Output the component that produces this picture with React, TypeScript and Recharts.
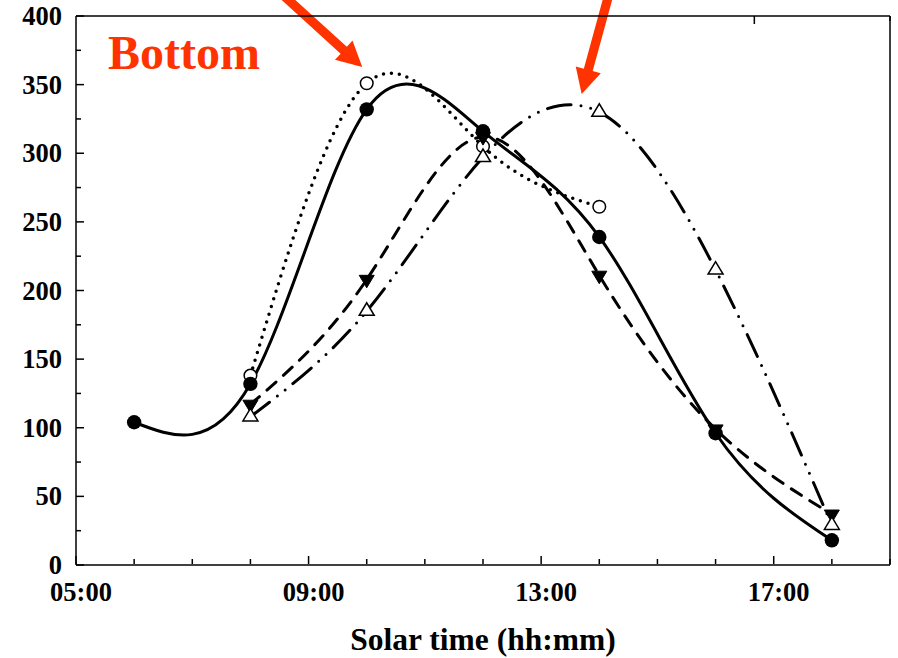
import React from 'react';
import { LineChart, Line, XAxis, YAxis, ReferenceLine, ReferenceDot, Label } from 'recharts';

// ---- data ----
const hours = [6, 8, 10, 12, 14, 16, 18];
const seriesSolid = [104, 132, 332, 316, 239, 96, 18];
const seriesDotted = [null, 138, 351, 305, 261, null, null];
const seriesDashed = [null, 117, 208, 312, 211, 99, 37];
const seriesDashDot = [null, 108, 185, 297, 330, 215, 29];

const xTicks = [5, 6, 7, 8, 9, 10, 11, 12, 13, 14, 15, 16, 17, 18, 19];
const xLabelHours = [5, 9, 13, 17];
const yTicks = [0, 25, 50, 75, 100, 125, 150, 175, 200, 225, 250, 275, 300, 325, 350, 375, 400];
const yLabelValues = [0, 50, 100, 150, 200, 250, 300, 350, 400];

const arrows = [
  { x1: 8.49, y1: 418, x2: 9.923, y2: 362.8 },
  { x1: 14.18, y1: 418, x2: 13.697, y2: 343.2 },
];
const annotation = { x: 5.55, y: 361.4, text: 'Bottom' };
const xTitle = 'Solar time (hh:mm)';

const data = hours.map((h, i) => ({
  h,
  a: seriesSolid[i],
  b: seriesDotted[i] ?? undefined,
  c: seriesDashed[i] ?? undefined,
  d: seriesDashDot[i] ?? undefined,
}));

const RED = '#ff3300';
const tickFont = { fontFamily: '"Liberation Serif", serif', fontWeight: 700, fontSize: 26.5, fill: '#000' };
const fmtHour = (h: number) => `${String(h).padStart(2, '0')}:00`;

const BottomTick = (props: any) => {
  const { x, payload } = props;
  const y = props.y - 1;
  const major = xLabelHours.includes(payload.value);
  return (
    <g>
      <line x1={x} x2={x} y1={y} y2={y - (major ? 8 : 5)} stroke="#000" strokeWidth={1.5} />
      {major && (
        <text x={x + 5} y={y + 37} textAnchor="middle" style={tickFont}>
          {fmtHour(payload.value)}
        </text>
      )}
    </g>
  );
};

const TopTick = (props: any) => {
  const { x, y, payload } = props;
  const major = xLabelHours.includes(payload.value);
  return <line x1={x} x2={x} y1={y} y2={y + (major ? 8 : 5)} stroke="#000" strokeWidth={1.5} />;
};

const LeftTick = (props: any) => {
  const { x, y, payload } = props;
  const major = yLabelValues.includes(payload.value);
  return (
    <g>
      <line x1={x} x2={x + (major ? 8 : 5)} y1={y} y2={y} stroke="#000" strokeWidth={1.5} />
      {major && (
        <text x={x - 14} y={y + 9} textAnchor="end" style={tickFont}>
          {payload.value}
        </text>
      )}
    </g>
  );
};

const RightTick = (props: any) => {
  const { x, y, payload } = props;
  const major = yLabelValues.includes(payload.value);
  return <line x1={x} x2={x - (major ? 8 : 5)} y1={y} y2={y} stroke="#000" strokeWidth={1.5} />;
};

const FilledCircle = (p: any) =>
  p.cy == null ? <g key={p.key ?? p.index} /> : <circle key={p.key ?? p.index} cx={p.cx} cy={p.cy} r={7.2} fill="#000" />;
const OpenCircle = (p: any) =>
  p.cy == null ? <g key={p.key ?? p.index} /> : (
    <circle key={p.key ?? p.index} cx={p.cx} cy={p.cy} r={6.3} fill="#fff" stroke="#000" strokeWidth={1.5} />
  );
const DownTriangle = (p: any) =>
  p.cy == null ? <g key={p.key ?? p.index} /> : (
    <polygon
      key={p.key ?? p.index}
      points={`${p.cx - 7.5},${p.cy - 4.2} ${p.cx + 7.5},${p.cy - 4.2} ${p.cx},${p.cy + 8.3}`}
      fill="#000"
      stroke="#000"
      strokeWidth={1}
    />
  );
const UpTriangle = (p: any) =>
  p.cy == null ? <g key={p.key ?? p.index} /> : (
    <polygon
      key={p.key ?? p.index}
      points={`${p.cx - 7.5},${p.cy + 4.2} ${p.cx + 7.5},${p.cy + 4.2} ${p.cx},${p.cy - 8.3}`}
      fill="#fff"
      stroke="#000"
      strokeWidth={1.5}
    />
  );

const ArrowShape = (props: any) => {
  const { x1, y1, x2, y2 } = props;
  const dx = x2 - x1;
  const dy = y2 - y1;
  const L = Math.hypot(dx, dy) || 1;
  const ux = dx / L;
  const uy = dy / L;
  const px = -uy;
  const py = ux;
  const headLen = 25;
  const headHalf = 13;
  const shaftHalf = 4.6;
  const bx = x2 - ux * headLen;
  const by = y2 - uy * headLen;
  const pts = [
    [x1 + px * shaftHalf, y1 + py * shaftHalf],
    [bx + px * shaftHalf, by + py * shaftHalf],
    [bx + px * headHalf, by + py * headHalf],
    [x2, y2],
    [bx - px * headHalf, by - py * headHalf],
    [bx - px * shaftHalf, by - py * shaftHalf],
    [x1 - px * shaftHalf, y1 - py * shaftHalf],
  ];
  return <polygon points={pts.map((q) => q.join(',')).join(' ')} fill={RED} />;
};

const AnnotationText = (p: any) => (
  <text
    x={p.cx}
    y={p.cy}
    style={{ fontFamily: '"Liberation Serif", serif', fontWeight: 700, fontSize: 48, fill: RED }}
  >
    {annotation.text}
  </text>
);

const XTitle = (p: any) => {
  const vb = p.viewBox || {};
  return (
    <text
      x={vb.x + vb.width / 2}
      y={vb.y + 85}
      textAnchor="middle"
      style={{ fontFamily: '"Liberation Serif", serif', fontWeight: 700, fontSize: 31.5, fill: '#000' }}
    >
      {xTitle}
    </text>
  );
};

export default function App() {
  return (
    <div style={{ position: 'absolute', left: 0, top: 0 }}>
      <LineChart width={898} height={658} data={data} margin={{ top: 15, right: 7, bottom: 92, left: 75 }}>
        <XAxis
          dataKey="h"
          type="number"
          domain={[5, 19]}
          ticks={xTicks}
          interval={0}
          height={1}
          tickSize={0}
          tickMargin={0}
          tickLine={false}
          tick={BottomTick}
          axisLine={{ stroke: '#000', strokeWidth: 1.5 }}
        >
          <Label content={XTitle} />
        </XAxis>
        <XAxis
          xAxisId="top"
          orientation="top"
          type="number"
          domain={[5, 19]}
          ticks={xTicks}
          interval={0}
          height={1}
          tickSize={0}
          tickMargin={0}
          tickLine={false}
          tick={TopTick}
          axisLine={{ stroke: '#000', strokeWidth: 1.5 }}
        />
        <YAxis
          type="number"
          domain={[0, 400]}
          ticks={yTicks}
          interval={0}
          width={1}
          tickSize={0}
          tickMargin={0}
          tickLine={false}
          tick={LeftTick}
          axisLine={{ stroke: '#000', strokeWidth: 1.5 }}
        />
        <YAxis
          yAxisId="right"
          orientation="right"
          type="number"
          domain={[0, 400]}
          ticks={yTicks}
          interval={0}
          width={1}
          tickSize={0}
          tickMargin={0}
          tickLine={false}
          tick={RightTick}
          axisLine={{ stroke: '#000', strokeWidth: 1.5 }}
        />
        <Line
          dataKey="b"
          type="natural"
          stroke="#000"
          strokeWidth={3.5}
          strokeDasharray="0 8"
          strokeLinecap="round"
          dot={OpenCircle}
          activeDot={false}
          isAnimationActive={false}
        />
        <Line
          dataKey="c"
          type="natural"
          stroke="#000"
          strokeWidth={3}
          strokeDasharray="12 10"
          strokeLinecap="round"
          dot={DownTriangle}
          activeDot={false}
          isAnimationActive={false}
        />
        <Line
          dataKey="d"
          type="natural"
          stroke="#000"
          strokeWidth={3}
          strokeDasharray="24 10 0 10 0 10"
          strokeLinecap="round"
          dot={UpTriangle}
          activeDot={false}
          isAnimationActive={false}
        />
        <Line
          dataKey="a"
          type="natural"
          stroke="#000"
          strokeWidth={3}
          dot={FilledCircle}
          activeDot={false}
          isAnimationActive={false}
        />
        {arrows.map((a, i) => (
          <ReferenceLine
            key={i}
            segment={[
              { x: a.x1, y: a.y1 },
              { x: a.x2, y: a.y2 },
            ]}
            ifOverflow="visible"
            shape={ArrowShape}
          />
        ))}
        <ReferenceDot x={annotation.x} y={annotation.y} r={0} ifOverflow="visible" shape={AnnotationText} />
      </LineChart>
    </div>
  );
}
